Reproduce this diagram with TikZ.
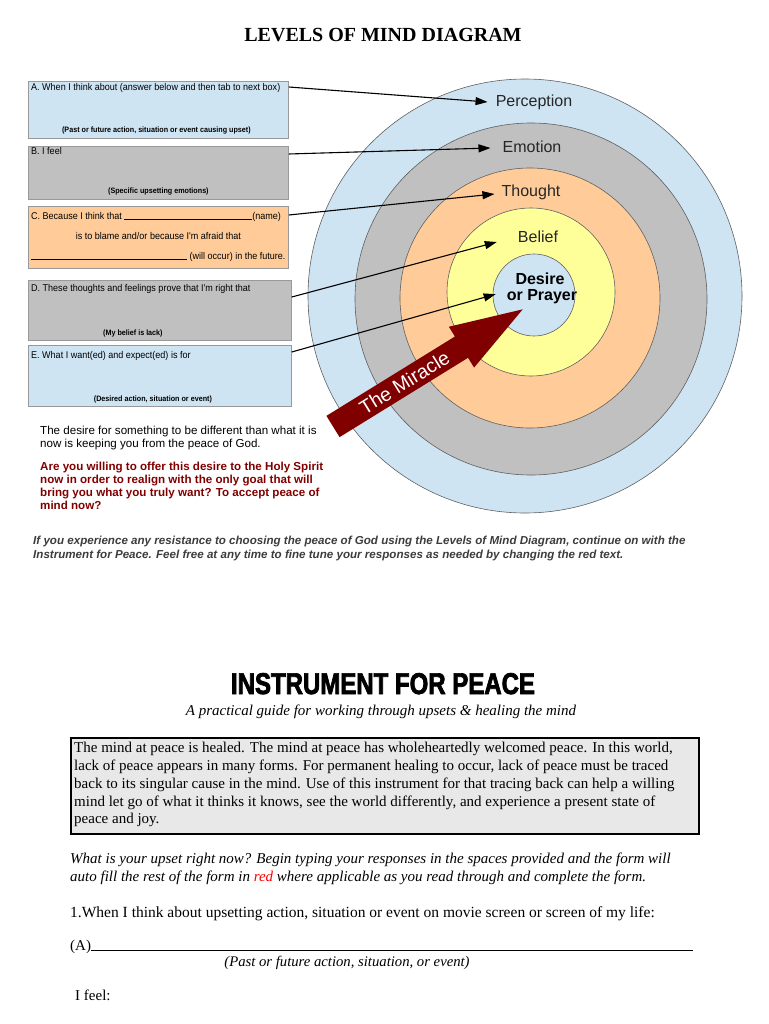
\documentclass[tikz,border=0pt]{standalone}
\usepackage{fontspec}
\setmainfont{Liberation Serif}
\setsansfont{Liberation Sans}
\newfontfamily\narrowsans[FakeStretch=0.92]{Liberation Sans}
\newfontfamily\heavysans[FakeStretch=0.8,BoldFeatures={FakeBold=2.4}]{Liberation Sans}
\usetikzlibrary{arrows.meta,calc,positioning}

\definecolor{skyblue}{RGB}{206,228,243}
\definecolor{ringgray}{RGB}{192,192,192}
\definecolor{peach}{RGB}{255,204,153}
\definecolor{paleyellow}{RGB}{255,255,153}
\definecolor{maroon}{RGB}{128,0,0}
\definecolor{notegray}{RGB}{60,60,60}

\tikzset{
  ring/.style={draw=gray!75!black, line width=0.6pt},
  formbox/.style={draw=gray!80, line width=0.8pt, anchor=north west, inner sep=0pt, minimum width=260pt},
  boxtext/.style={anchor=base west, inner sep=0pt, font=\narrowsans\fontsize{9.8}{11}\selectfont},
  boxnote/.style={anchor=base, inner sep=0pt, font=\narrowsans\bfseries\fontsize{7.8}{9}\selectfont},
  ringlabel/.style={inner sep=0pt, font=\sffamily\fontsize{16}{19}\selectfont, text=black!85},
  corelabel/.style={inner sep=0pt, anchor=base, font=\sffamily\bfseries\fontsize{16}{19}\selectfont},
  pointer/.style={-{Triangle[length=12pt,width=8pt]}, line width=1.1pt},
  sidetext/.style={anchor=north west, inner sep=0pt, align=left},
  serifline/.style={anchor=base west, inner sep=0pt},
  introbox/.style={anchor=north west, draw, line width=2.4pt, fill=gray!18, minimum width=628pt, minimum height=96pt},
}

\begin{document}
\begin{tikzpicture}[x=1pt,y=-1pt]
  \useasboundingbox (0,0) rectangle (768,1024);

  % Title
  \node[anchor=base, font=\bfseries\fontsize{20}{24}\selectfont] (title) at (383,42) {LEVELS OF MIND DIAGRAM};

  % Levels of mind (rings)
  \draw[ring, fill=skyblue] (525,296) circle[radius=217];
  \draw[ring, fill=ringgray] (531,299) circle[radius=176];
  \draw[ring, fill=peach] (530,298) circle[radius=130];
  \draw[ring, fill=paleyellow] (531,292) circle[radius=84];
  \draw[ring, fill=skyblue] (534,295) circle[radius=41];

  \node[ringlabel] (perc) at (534,102) {Perception};
  \node[ringlabel] (emo) at (532,147) {Emotion};
  \node[ringlabel] (thou) at (531,192) {Thought};
  \node[ringlabel] (bel) at (538,237) {Belief};
  \node[corelabel] (desire) at (540,284) {Desire};
  \node[corelabel] (prayer) at (542,300) {or Prayer};

  % The miracle arrow
  \begin{scope}[shift={(333,426.5)}, rotate=31.7]
    \fill[maroon] (0,-12.5) -- (151,-12.5) -- (151,-24) -- (223,0)
      -- (151,24) -- (151,12.5) -- (0,12.5) -- cycle;
    \node[transform shape, text=white, font=\sffamily\fontsize{19.5}{21}\selectfont] (miracle) at (84,0) {The Miracle};
  \end{scope}

  % Form boxes
  \node[formbox, fill=skyblue, minimum height=57pt] (boxA) at (28,81) {};
  \node[formbox, fill=ringgray, minimum height=53pt] (boxB) at (28,146) {};
  \node[formbox, fill=peach, minimum height=62pt] (boxC) at (28,206) {};
  \node[formbox, fill=ringgray, minimum width=263pt, minimum height=60pt] (boxD) at (28,280) {};
  \node[formbox, fill=skyblue, minimum width=263pt, minimum height=61pt] (boxE) at (28,345) {};

  \node[boxtext] (textA) at ($(boxA.north west)+(3,10)$) {A. When I think about (answer below and then tab to next box)};
  \node[boxnote] (noteA) at ($(boxA.south)+(-2,-6)$) {(Past or future action, situation or event causing upset)};
  \node[boxtext] (textB) at ($(boxB.north west)+(3,9)$) {B. I feel};
  \node[boxnote] (noteB) at ($(boxB.south)+(0,-6)$) {(Specific upsetting emotions)};
  \node[boxtext] (textC1) at ($(boxC.north west)+(3,13)$) {C. Because I think that \rule[-1pt]{128pt}{0.6pt}(name)};
  \node[boxtext, anchor=base] (textC2) at ($(boxC.north)+(0,34)$) {is to blame and/or because I'm afraid that};
  \node[boxtext] (textC3) at ($(boxC.north west)+(3,53)$) {\rule[-1pt]{156pt}{0.6pt} (will occur) in the future.};
  \node[boxtext] (textD) at ($(boxD.north west)+(3,11)$) {D. These thoughts and feelings prove that I'm right that};
  \node[boxnote] (noteD) at ($(boxD.south)+(-27,-5)$) {(My belief is lack)};
  \node[boxtext] (textE) at ($(boxE.north west)+(3,13)$) {E. What I want(ed) and expect(ed) is for};
  \node[boxnote] (noteE) at ($(boxE.south)+(-7,-5)$) {(Desired action, situation or event)};

  % Connectors to the levels
  \draw[pointer] ([yshift=-6pt]boxA.north east) -- ($(perc.west)+(-8,0)$);
  \draw[pointer] ([yshift=-8pt]boxB.north east) -- ($(emo.west)+(-12,1)$);
  \draw[pointer] ([yshift=-9pt]boxC.north east) -- ($(thou.west)+(-7,2)$);
  \draw[pointer] ([yshift=-17pt]boxD.north east) -- ($(bel.west)+(-21,5)$);
  \draw[pointer] ([yshift=-7pt]boxE.north east) -- ($(prayer.west)+(-11,-2)$);

  % Notes below the diagram
  \node[sidetext, font=\sffamily\fontsize{11.6}{13}\selectfont] (desirenote) at (40,426)
    {The desire for something to be different than what it is\\now is keeping you from the peace of God.};
  \node[sidetext, text=maroon, font=\sffamily\bfseries\fontsize{11.6}{13}\selectfont] (offer) at (40,462)
    {Are you willing to offer this desire to the Holy Spirit\\now in order to realign with the only goal that will\\bring you what you truly want? To accept peace of\\mind now?};
  \node[sidetext, text=notegray, font=\sffamily\bfseries\itshape\fontsize{11.6}{14}\selectfont] (resist) at (33,536)
    {If you experience any resistance to choosing the peace of God using the Levels of Mind Diagram, continue on with the\\Instrument for Peace. Feel free at any time to fine tune your responses as needed by changing the red text.};

  % Instrument for peace
  \node[anchor=base, font=\heavysans\bfseries\fontsize{30}{32}\selectfont] (instr) at (383,694) {INSTRUMENT FOR PEACE};
  \node[anchor=base, font=\itshape\fontsize{15}{18}\selectfont] (subtitle) at (381,715) {A practical guide for working through upsets \& healing the mind};

  \node[introbox] (intro) at (70,737) {};
  \node[sidetext, font=\fontsize{15}{17.8}\selectfont] (introtext) at ($(intro.north west)+(4,5)$)
    {The mind at peace is healed. The mind at peace has wholeheartedly welcomed peace. In this world,\\
     lack of peace appears in many forms. For permanent healing to occur, lack of peace must be traced\\
     back to its singular cause in the mind. Use of this instrument for that tracing back can help a willing\\
     mind let go of what it thinks it knows, see the world differently, and experience a present state of\\
     peace and joy.};

  \node[serifline, font=\itshape\fontsize{15}{18}\selectfont] (upset1) at (70,863)
    {What is your upset right now? Begin typing your responses in the spaces provided and the form will};
  \node[serifline, font=\itshape\fontsize{15}{18}\selectfont] (upset2) at (70,881)
    {auto fill the rest of the form in \textcolor{red}{red} where applicable as you read through and complete the form.};
  \node[serifline, font=\fontsize{15.5}{17}\selectfont] (step1) at (70,917)
    {1.When I think about upsetting action, situation or event on movie screen or screen of my life:};
  \node[serifline, font=\fontsize{15}{17}\selectfont] (formA) at (70,950)
    {(A)\rule[-1pt]{602pt}{0.6pt}};
  \node[anchor=base, inner sep=0pt, font=\itshape\fontsize{14.7}{17}\selectfont] (formAnote) at (347,966)
    {(Past or future action, situation, or event)};
  \node[serifline, font=\fontsize{15}{17}\selectfont] (feel) at (75,1000) {I feel:};
\end{tikzpicture}
\end{document}
